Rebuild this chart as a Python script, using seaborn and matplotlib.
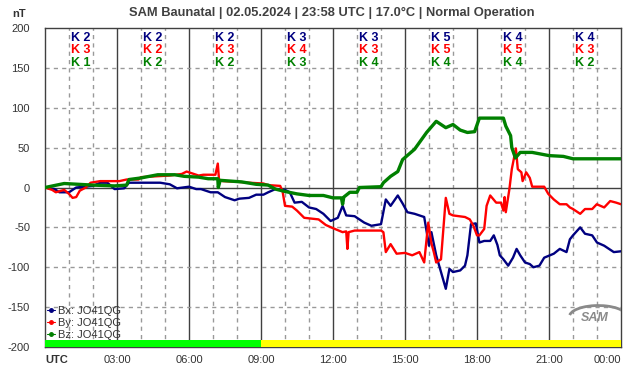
import numpy as np
import pandas as pd
import matplotlib
matplotlib.use("Agg")
import matplotlib.pyplot as plt
from matplotlib.lines import Line2D
from matplotlib.patches import Arc
import seaborn as sns

# ---------------- data ----------------
bx_t = [0, 0.4, 0.6, 1.0, 1.3, 2.0, 2.3, 2.6, 2.9, 3.3, 3.5, 4.0, 4.8, 5.2, 5.5, 6.0, 6.3, 6.5, 6.9, 7.2,
        7.5, 7.9, 8.1, 8.5, 8.8, 9.1, 9.3, 9.6, 10.0, 10.2, 10.4, 10.7, 11.0, 11.3, 11.6, 11.9, 12.2, 12.4,
        12.55, 12.9, 13.3, 13.6, 14.0, 14.2, 14.4, 14.7, 14.9, 15.1, 15.4, 15.6, 15.8, 16.0, 16.1, 16.3,
        16.5, 16.7, 16.85, 17.0, 17.3, 17.5, 17.6, 17.75, 17.95, 18.1, 18.3, 18.55, 18.7, 18.85, 18.95,
        19.1, 19.3, 19.5, 19.65, 19.8, 20.0, 20.2, 20.35, 20.6, 20.8, 21.2, 21.45, 21.73, 21.87, 22.0,
        22.3, 22.5, 22.8, 23.0, 23.3, 23.7, 24.0]
bx_v = [0, -2, -6, -6, 0, 2, 6, 6, -2, -1, 6, 6, 6, 4, -1, 1, -2, -2, -6, -6,
        -12, -16, -14, -13, -9, -9, -6, -2, -3, -6, -19, -18, -25, -27, -33, -42, -38, -23,
        -35, -36, -44, -48, -46, -15, -23, -10, -20, -31, -33, -35, -37, -73, -56, -85,
        -106, -127, -102, -106, -104, -98, -85, -46, -45, -69, -67, -67, -60, -72, -85,
        -90, -98, -88, -77, -85, -94, -96, -100, -98, -88, -83, -77, -81, -65, -60,
        -50, -58, -60, -69, -73, -81, -80]

by_t = [0, 0.3, 0.45, 0.8, 1.0, 1.15, 1.3, 1.45, 1.7, 1.9, 2.3, 3.1, 3.4, 3.9, 4.0, 5.2, 5.7, 5.9, 6.1,
        6.4, 6.6, 7.1, 7.2, 7.25, 7.4, 8.1, 8.5, 9.1, 9.3, 9.8, 9.9, 10.0, 10.3, 10.5, 10.8, 11.4, 11.7,
        12.0, 12.4, 12.55, 12.6, 12.65, 12.9, 14.0, 14.1, 14.2, 14.4, 14.65, 15.0, 15.3, 15.6, 15.8,
        15.97, 16.1, 16.2, 16.3, 16.5, 16.7, 16.85, 17.0, 17.5, 17.7, 17.85, 18.0, 18.1, 18.3, 18.4,
        18.55, 18.8, 19.0, 19.1, 19.15, 19.2, 19.35, 19.45, 19.62, 19.7, 19.85, 19.9, 20.05, 20.2,
        20.3, 20.8, 20.97, 21.2, 21.45, 21.73, 21.87, 22.0, 22.3, 22.5, 22.8, 22.99, 23.3, 23.55,
        23.8, 24.0]
by_v = [0, -3, -6, -3, -8, -13, -12, -4, 0, 6, 8, 8, 10, 10, 13, 15, 17, 20, 18,
        15, 16, 16, 30, 10, 8, 7, 6, 5, 3, 2, -5, -23, -24, -29, -38, -40, -47,
        -51, -56, -55, -77, -56, -54, -54, -56, -81, -71, -83, -82, -85, -81, -94,
        -44, -70, -81, -94, -90, -13, -33, -35, -37, -40, -48, -60, -60, -52, -23,
        -10, -19, -19, -29, -12, -31, -2, 23, 49, 23, 19, 8, 19, 12,
        1, 1, -8, -15, -21, -21, -25, -27, -33, -27, -27, -21, -25, -17,
        -19, -21]

bz_t = [0, 0.8, 1.4, 2.0, 2.9, 3.4, 3.5, 4.0, 4.7, 5.4, 5.8, 6.4, 6.8, 7.2, 7.22, 7.3, 8.2, 8.8, 9.3,
        9.6, 10.0, 10.5, 11.0, 11.6, 12.0, 12.35, 12.4, 12.45, 12.7, 13.0, 13.1, 14.0, 14.1, 14.4, 14.7,
        14.9, 15.4, 15.9, 16.3, 16.5, 16.7, 17.0, 17.3, 17.6, 17.9, 18.1, 18.5, 19.1, 19.2, 19.4, 19.45,
        19.6, 19.8, 20.3, 21.0, 21.6, 22.0, 24.0]
bz_v = [0, 5, 4, 3, 2, 3, 10, 12, 16, 16, 14, 13, 11, 11, 0, 9, 7, 4, 3,
        -2, -5, -8, -10, -10, -13, -13, -21, -12, -6, -6, 0, 1, 6, 14, 20,
        35, 48, 69, 83, 79, 75, 79, 72, 69, 70, 87, 87, 87, 77, 65, 50,
        37, 44, 44, 40, 39, 36, 36]

components = ["Bx: JO41QG", "By: JO41QG", "Bz: JO41QG"]
colors = ["#000080", "#FF0000", "#008000"]

k_blocks = [1.5, 4.5, 7.5, 10.5, 13.5, 16.5, 19.5, 22.5]
k_bx = [2, 2, 2, 3, 3, 5, 4, 4]
k_by = [3, 2, 3, 4, 3, 5, 5, 3]
k_bz = [1, 2, 2, 3, 4, 4, 4, 2]

status_start = [0, 9]
status_end = [9, 24]
status_colors = ["#00FF00", "#FFFF00"]

x_tick_pos = [0, 3, 6, 9, 12, 15, 18, 21, 24]
x_tick_lab = ["UTC", "03:00", "06:00", "09:00", "12:00", "15:00", "18:00", "21:00", "00:00"]
y_ticks = [-200, -150, -100, -50, 0, 50, 100, 150, 200]

title = "SAM Baunatal | 02.05.2024 | 23:58 UTC | 17.0°C | Normal Operation"

# ---------------- build table ----------------
df = pd.concat([
    pd.DataFrame({"t": bx_t, "v": bx_v, "comp": components[0]}),
    pd.DataFrame({"t": by_t, "v": by_v, "comp": components[1]}),
    pd.DataFrame({"t": bz_t, "v": bz_v, "comp": components[2]}),
], ignore_index=True)

sns.set_theme(style="white")
FONT = ["Liberation Sans", "DejaVu Sans"]
plt.rcParams["font.family"] = FONT

fig = plt.figure(figsize=(6.42, 3.76), dpi=100)
ax = fig.add_axes([45 / 642, 1 - 347 / 376, 576 / 642, 319 / 376])
ax.set_facecolor("white")

grid_dark = "#404040"
grid_light = "#999999"

# grid
for h in range(1, 24):
    if h % 3 == 0:
        ax.axvline(h, color=grid_dark, lw=1.0, zorder=1)
    else:
        ax.axvline(h, color=grid_light, lw=1.0, ls=(0, (3, 3)), zorder=1)
for y in y_ticks[1:-1]:
    if y == 0:
        ax.axhline(y, color=grid_dark, lw=1.0, zorder=1)
    else:
        ax.axhline(y, color=grid_light, lw=1.0, ls=(0, (3, 3)), zorder=1)

sns.lineplot(data=df, x="t", y="v", hue="comp", palette=colors, estimator=None,
             sort=False, linewidth=1.7, legend=False, ax=ax, zorder=4)
# the Bz trace is visibly thicker (noisy) in the reference
ax.get_lines()[-1].set_linewidth(2.4)

# status bar
for s, e, c in zip(status_start, status_end, status_colors):
    ax.fill_between([s, e], -200, -191, color=c, lw=0, zorder=5)

ax.set_xlim(0, 24)
ax.set_ylim(-200, 200)
ax.set_xlabel("")
ax.set_ylabel("")
ax.set_xticks(x_tick_pos)
ax.set_xticklabels(x_tick_lab)
ax.set_xticks(range(25), minor=True)
ax.set_yticks(y_ticks)
ax.set_yticklabels([str(v) for v in y_ticks])
ax.tick_params(axis="x", which="major", direction="inout", length=8, width=1,
               color=grid_dark, labelsize=8, labelcolor="#333333", pad=2)
ax.tick_params(axis="x", which="minor", direction="inout", length=5, width=1, color=grid_dark)
ax.tick_params(axis="y", which="major", direction="inout", length=6.5, width=1,
               color=grid_dark, labelsize=8, labelcolor="#333333", pad=7.5)
ax.get_xticklabels()[0].set_fontweight("bold")
ax.get_xticklabels()[0].set_horizontalalignment("left")
ax.get_xticklabels()[-1].set_horizontalalignment("right")

for sp in ax.spines.values():
    sp.set_color(grid_dark)
    sp.set_linewidth(1.0)
    sp.set_visible(True)

# K indices
for xc, a, b, c in zip(k_blocks, k_bx, k_by, k_bz):
    for val, yv, col in zip((a, b, c), (188, 172, 156), colors):
        ax.text(xc, yv, f"K {val}", color=col, ha="center", va="center",
                fontsize=9, fontweight="bold", zorder=6)

# legend
handles = [Line2D([0], [0], color=c, lw=0.8, marker="o", markersize=2.5) for c in colors]
leg = ax.legend(handles, components, loc="lower left", bbox_to_anchor=(-0.004, 0.008),
                frameon=False, fontsize=8, handlelength=0.7, handletextpad=0.3,
                labelspacing=0.2, borderaxespad=0.0)
for t in leg.get_texts():
    t.set_color("#333333")

# logo (approximation)
ax.text(22.9, -164, "SAM", fontsize=9, fontstyle="italic", fontweight="bold",
        color="#8a8a8a", ha="center", va="center", zorder=6)
ax.add_patch(Arc((23.05, -162), 2.4, 28, theta1=-80, theta2=120, color="#8a8a8a", lw=2.0, zorder=6))

fig.text(332 / 642, 1 - 13 / 376, title, ha="center", va="center", fontsize=9.3,
         fontweight="bold", color="#404040")
fig.text(19 / 642, 1 - 14 / 376, "nT", ha="center", va="center", fontsize=8,
         fontweight="bold", color="#333333")

fig.savefig("out.png", dpi=100, facecolor="white")
